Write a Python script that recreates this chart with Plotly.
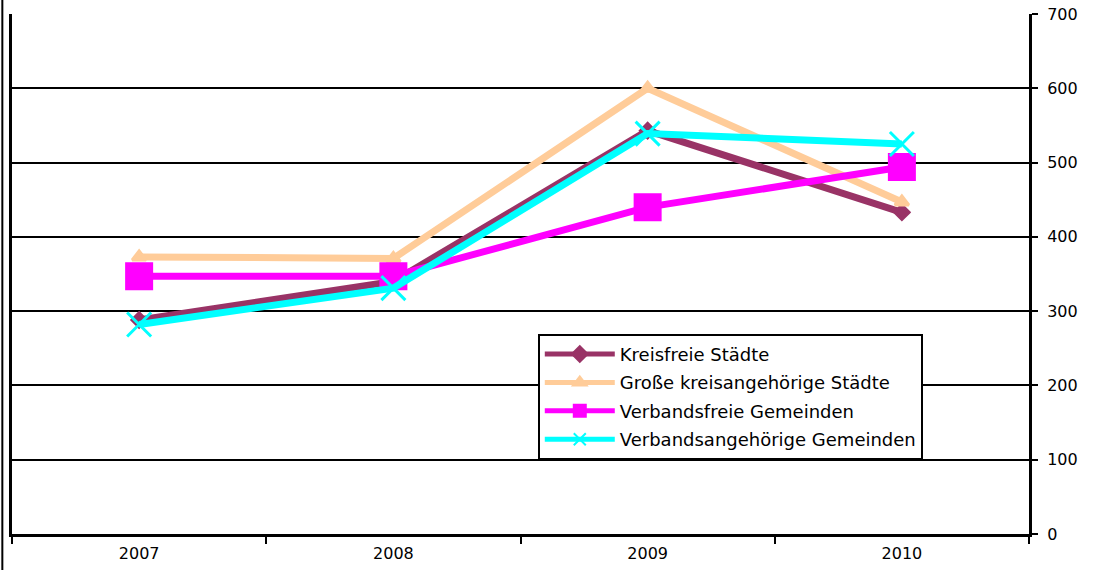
import plotly.graph_objects as go

years = ["2007", "2008", "2009", "2010"]
kreisfreie = [288, 340, 543, 433]
grosse = [373, 371, 600, 447]
verbandsfreie = [347, 347, 440, 494]
verbandsangehoerige = [282, 331, 539, 525]
y_ticks = [0, 100, 200, 300, 400, 500, 600, 700]

series = [
    ("Kreisfreie Städte", kreisfreie, "#993366", "diamond", 11),
    ("Große kreisangehörige Städte", grosse, "#FFCC99", "triangle-up", 12),
    ("Verbandsfreie Gemeinden", verbandsfreie, "#FF00FF", "square", 25),
    ("Verbandsangehörige Gemeinden", verbandsangehoerige, "#00FFFF", "x-thin", 24),
]

fig = go.Figure()
for i, (name, vals, col, sym, size) in enumerate(series):
    fig.add_trace(go.Scatter(
        x=years, y=vals, name=name, mode="lines+markers", legendgroup=str(i),
        line=dict(color=col, width=7),
        marker=dict(symbol=sym, size=size, color=col,
                    line=dict(color=col, width=3)),
    ))

fig.update_layout(
    width=1094, height=570,
    margin=dict(l=12, r=65, t=14, b=36),
    paper_bgcolor="white", plot_bgcolor="white",
    font=dict(family="DejaVu Sans, Arial, sans-serif", size=16, color="black"),
    showlegend=True,
    legend=dict(
        x=0.517, y=0.385, xanchor="left", yanchor="top",
        bgcolor="white", bordercolor="black", borderwidth=2,
        font=dict(size=18), tracegroupgap=2, itemwidth=70, itemsizing="constant",
    ),
    xaxis=dict(
        type="category", range=[-0.5, 3.5], tickson="boundaries", ticks="outside",
        ticklen=7, tickwidth=2, tickcolor="black", showline=True, linecolor="black",
        linewidth=3, showgrid=False, zeroline=False, automargin=False,
        ticklabelstandoff=3,
    ),
    yaxis=dict(
        side="right", range=[0, 700], tickvals=y_ticks, ticks="outside",
        ticklen=6, tickwidth=2, tickcolor="black", showline=True, mirror=True,
        linecolor="black", linewidth=3, showgrid=True, gridcolor="black",
        gridwidth=2, zeroline=False, automargin=False, ticklabelstandoff=6,
    ),
    shapes=[dict(type="line", xref="paper", yref="paper", x0=-0.0095, x1=-0.0095,
                 y0=-0.1, y1=1.1, line=dict(color="black", width=2))],
)

fig.write_html("out.html", config={"displayModeBar": False},
               post_script="document.body.style.margin='0';")
